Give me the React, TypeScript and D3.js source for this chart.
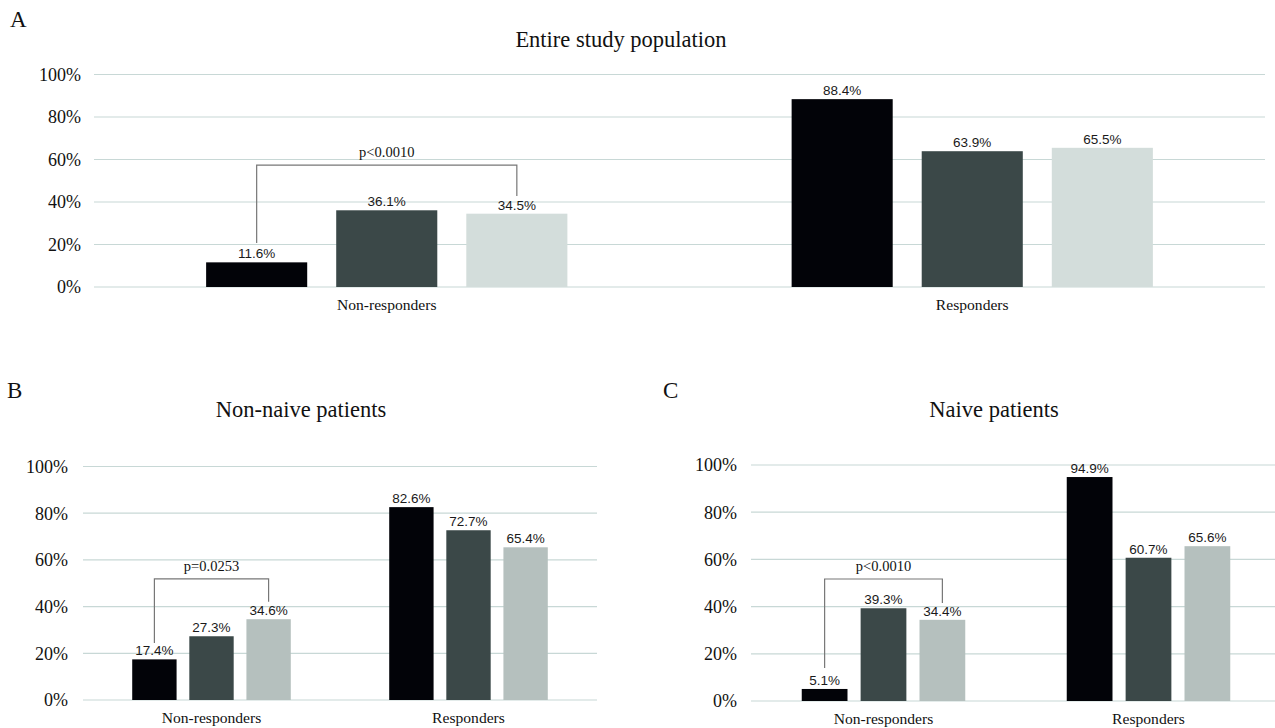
import * as d3 from 'd3';

// categories and series values (percent)
const categories = ['Non-responders', 'Responders'];
const seriesIdx = [0, 1, 2];
const yTicks = [0, 20, 40, 60, 80, 100];

const entireValues = [
  [11.6, 36.1, 34.5],
  [88.4, 63.9, 65.5],
];
const nonNaiveValues = [
  [17.4, 27.3, 34.6],
  [82.6, 72.7, 65.4],
];
const naiveValues = [
  [5.1, 39.3, 34.4],
  [94.9, 60.7, 65.6],
];

const entireP = 'p<0.0010';
const nonNaiveP = 'p=0.0253';
const naiveP = 'p<0.0010';

const colorsA = ['#020308', '#3b4848', '#d3dddb'];
const colorsBC = ['#020308', '#3b4848', '#b5c0be'];

const serif = '"Liberation Serif", "Times New Roman", serif';
const sans = '"Liberation Sans", Arial, sans-serif';

type Bracket = { top: number; left: number; right: number };

type PanelProps = {
  letter: string;
  letterX: number;
  letterY: number;
  title: string;
  titleX: number;
  titleY: number;
  values: number[][];
  colors: string[];
  left: number;
  right: number;
  top: number;
  bottom: number;
  tickX: number;
  pText: string;
  bracket: Bracket;
};

function Panel(p: PanelProps) {
  const y = d3.scaleLinear().domain([0, 100]).range([p.bottom, p.top]);
  const x0 = d3
    .scaleBand<string>()
    .domain(categories)
    .range([p.left, p.right])
    .paddingInner(0.383)
    .paddingOuter(0.1915);
  const x1 = d3
    .scaleBand<number>()
    .domain(seriesIdx)
    .range([0, x0.bandwidth()])
    .paddingInner(0.223);

  // bracket between first and third bar of the first category
  const cat0 = x0(categories[0]) as number;
  const bx1 = cat0 + (x1(0) as number) + x1.bandwidth() / 2;
  const bx2 = cat0 + (x1(2) as number) + x1.bandwidth() / 2;
  const by = y(p.bracket.top);

  return (
    <g>
      <text x={p.letterX} y={p.letterY} fontFamily={serif} fontSize={23} fill="#111">
        {p.letter}
      </text>
      <text
        x={p.titleX}
        y={p.titleY}
        textAnchor="middle"
        fontFamily={serif}
        fontSize={22.5}
        fill="#111"
      >
        {p.title}
      </text>

      {/* gridlines and y tick labels */}
      {yTicks.map((t) => (
        <g key={t}>
          <line
            x1={p.left}
            x2={p.right}
            y1={y(t)}
            y2={y(t)}
            stroke="#c8d8d6"
            strokeWidth={1.2}
          />
          <text
            x={p.tickX}
            y={y(t)}
            dy="0.35em"
            textAnchor="end"
            fontFamily={serif}
            fontSize={18}
            fill="#111"
          >
            {t}%
          </text>
        </g>
      ))}

      {/* bars */}
      {categories.map((c, ci) => (
        <g key={c} transform={`translate(${x0(c)},0)`}>
          {seriesIdx.map((s) => {
            const v = p.values[ci][s];
            const bx = x1(s) as number;
            return (
              <g key={s}>
                <rect
                  x={bx}
                  y={y(v)}
                  width={x1.bandwidth()}
                  height={y(0) - y(v)}
                  fill={p.colors[s]}
                />
                <text
                  x={bx + x1.bandwidth() / 2}
                  y={y(v) - 4}
                  textAnchor="middle"
                  fontFamily={sans}
                  fontSize={13.5}
                  fill="#1a1a1a"
                >
                  {v.toFixed(1)}%
                </text>
              </g>
            );
          })}
          <text
            x={x0.bandwidth() / 2}
            y={p.bottom + 23}
            textAnchor="middle"
            fontFamily={serif}
            fontSize={15.6}
            fill="#111"
          >
            {c}
          </text>
        </g>
      ))}

      {/* significance bracket */}
      <path
        d={`M${bx1},${y(p.bracket.left)}V${by}H${bx2}V${y(p.bracket.right)}`}
        fill="none"
        stroke="#777"
        strokeWidth={1.2}
      />
      <text
        x={(bx1 + bx2) / 2}
        y={by - 8}
        textAnchor="middle"
        fontFamily={serif}
        fontSize={14.5}
        fill="#111"
      >
        {p.pText}
      </text>
    </g>
  );
}

export default function App() {
  return (
    <div style={{ position: 'absolute', left: 0, top: 0 }}>
      <svg width={1275} height={728} style={{ display: 'block', background: '#fff' }}>
        <Panel
          letter="A"
          letterX={10}
          letterY={27}
          title="Entire study population"
          titleX={621}
          titleY={47}
          values={entireValues}
          colors={colorsA}
          left={94}
          right={1265}
          top={74.5}
          bottom={287}
          tickX={81}
          pText={entireP}
          bracket={{ top: 57.4, left: 20.7, right: 42.8 }}
        />
        <Panel
          letter="B"
          letterX={7}
          letterY={398}
          title="Non-naive patients"
          titleX={301}
          titleY={417}
          values={nonNaiveValues}
          colors={colorsBC}
          left={83}
          right={597}
          top={466.5}
          bottom={700}
          tickX={68}
          pText={nonNaiveP}
          bracket={{ top: 51.9, left: 24.4, right: 42.1 }}
        />
        <Panel
          letter="C"
          letterX={663}
          letterY={398}
          title="Naive patients"
          titleX={994}
          titleY={417}
          values={naiveValues}
          colors={colorsBC}
          left={751}
          right={1281}
          top={465}
          bottom={701}
          tickX={737}
          pText={naiveP}
          bracket={{ top: 51.7, left: 14, right: 41.5 }}
        />
      </svg>
    </div>
  );
}
